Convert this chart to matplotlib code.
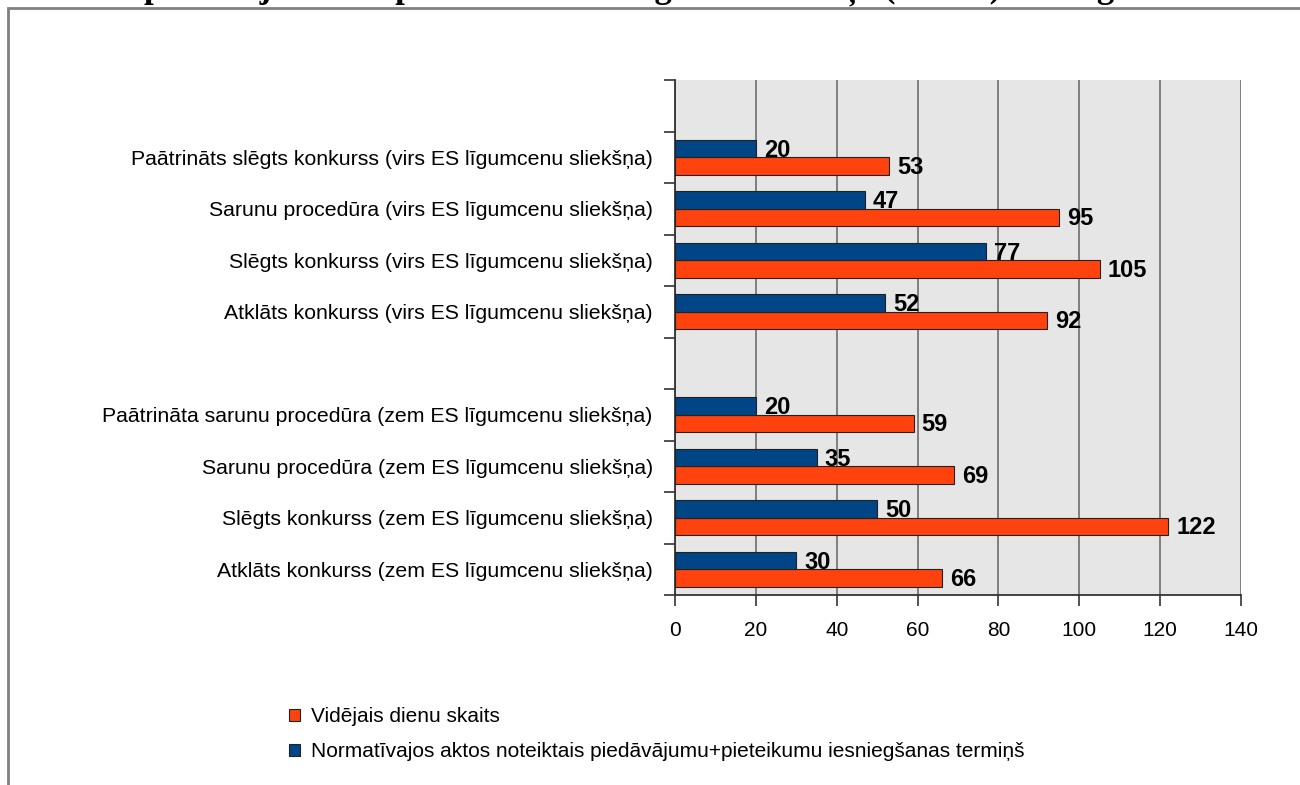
#Import bibliotēku
import matplotlib
matplotlib.use('Agg')
import matplotlib.pyplot as plt
import numpy as np
from matplotlib.patches import Rectangle

#Dati (no apakšas uz augšu, tukšās kategorijas atdala grupas)
kategorijas = ['Atklāts konkurss (zem ES līgumcenu sliekšņa)',
               'Slēgts konkurss (zem ES līgumcenu sliekšņa)',
               'Sarunu procedūra (zem ES līgumcenu sliekšņa)',
               'Paātrināta sarunu procedūra (zem ES līgumcenu sliekšņa)',
               '',
               'Atklāts konkurss (virs ES līgumcenu sliekšņa)',
               'Slēgts konkurss (virs ES līgumcenu sliekšņa)',
               'Sarunu procedūra (virs ES līgumcenu sliekšņa)',
               'Paātrināts slēgts konkurss (virs ES līgumcenu sliekšņa)',
               '']
videjais = [66, 122, 69, 59, np.nan, 92, 105, 95, 53, np.nan]
normativais = [30, 50, 35, 20, np.nan, 52, 77, 47, 20, np.nan]
x_ticks = [0, 20, 40, 60, 80, 100, 120, 140]
nos_videjais = 'Vidējais dienu skaits'
nos_normativais = 'Normatīvajos aktos noteiktais piedāvājumu+pieteikumu iesniegšanas termiņš'
virsraksts = 'piedāvājumu un pieteikumu iesniegšanas termiņš (dienās) 2009. gadā'

plt.rcParams['font.family'] = ['Liberation Sans', 'DejaVu Sans']

fig = plt.figure(figsize=(13, 7.85), dpi=100)
ax = fig.add_axes([675/1300, 1-595/785, 566/1300, 515/785])

#Rāmis un nogriezts virsraksts (redzamas tikai burtu apakšas)
fig.add_artist(Rectangle((8/1300, -0.5), 2, 1.5-8/785, transform=fig.transFigure,
                         fill=False, edgecolor='#808080', linewidth=2))
fig.text(0.505, 1-6/785, virsraksts, ha='center', va='bottom', fontsize=25,
         fontweight='bold', family='Liberation Serif')

y = np.arange(len(kategorijas))
h = 0.335
ax.barh(y - h/2, videjais, height=h, color='#ff420e', edgecolor='#222222',
        linewidth=0.8, label=nos_videjais, zorder=3)
ax.barh(y + h/2, normativais, height=h, color='#004586', edgecolor='#222222',
        linewidth=0.8, label=nos_normativais, zorder=3)

#Vērtību uzraksti
for i in range(len(kategorijas)):
    if not np.isnan(videjais[i]):
        ax.text(videjais[i] + 2, y[i] - h/2 - 0.03, '%d' % videjais[i],
                va='center', ha='left', fontsize=17, fontweight='bold', zorder=4)
        ax.text(normativais[i] + 2, y[i] + h/2 - 0.03, '%d' % normativais[i],
                va='center', ha='left', fontsize=17, fontweight='bold', zorder=4)

#Asis
ax.set_xlim(0, 140)
ax.set_ylim(-0.5, len(kategorijas) - 0.5)
ax.set_facecolor('#e6e6e6')
ax.set_xticks(x_ticks)
ax.set_xticklabels([str(t) for t in x_ticks], fontsize=15)
ax.set_yticks(np.arange(len(kategorijas) + 1) - 0.5)
ax.set_yticklabels([])
ax.set_yticks(y, minor=True)
ax.set_yticklabels(kategorijas, minor=True, fontsize=15.3)
ax.tick_params(axis='y', which='major', length=8, width=1.2, color='#333333')
ax.tick_params(axis='y', which='minor', length=0, pad=16)
ax.tick_params(axis='x', length=8, width=1.2, color='#333333', pad=11)
ax.grid(axis='x', color='#777777', linewidth=1.3, zorder=1)
ax.set_axisbelow(True)
for s in ['top', 'right']:
    ax.spines[s].set_visible(False)
for s in ['left', 'bottom']:
    ax.spines[s].set_color('#333333')
    ax.spines[s].set_linewidth(1.3)

#Leģenda
fig.legend(loc='upper left', bbox_to_anchor=(281/1300, 1-699/785), frameon=False,
           fontsize=15, handlelength=0.5, handleheight=0.5, handletextpad=0.55,
           labelspacing=0.75, borderaxespad=0)

plt.savefig('out.png', dpi=100)
